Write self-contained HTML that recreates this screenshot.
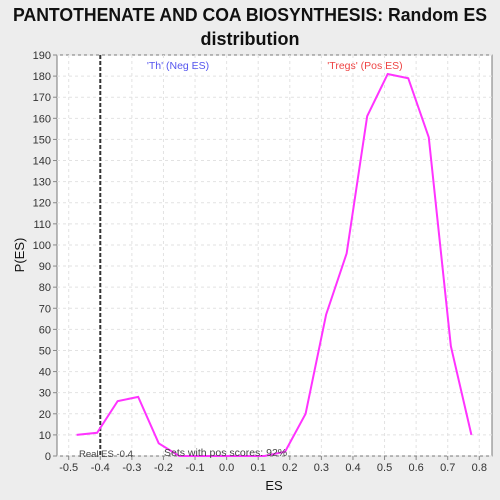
<!DOCTYPE html>
<html><head><meta charset="utf-8"><style>
html,body{margin:0;padding:0;background:#ededed;}
svg{display:block;font-family:"Liberation Sans","DejaVu Sans",sans-serif;}
</style></head><body>
<svg id="chart" width="500" height="500">
<text x="250" y="21" text-anchor="middle" font-size="18" font-weight="bold" fill="#111" textLength="474" lengthAdjust="spacingAndGlyphs">PANTOTHENATE AND COA BIOSYNTHESIS: Random ES</text>
<text x="250" y="45" text-anchor="middle" font-size="18" font-weight="bold" fill="#111">distribution</text>
<rect x="57" y="55" width="435" height="401" fill="#fff" stroke="#777"/>
<g id="grid"></g><g id="axes"></g><g id="series"></g>
<text x="178" y="69" text-anchor="middle" font-size="10.5" fill="#5555ee">'Th' (Neg ES)</text>
<text x="365" y="69" text-anchor="middle" font-size="10.5" fill="#ee4444">'Tregs' (Pos ES)</text>
<text x="274" y="490" text-anchor="middle" font-size="13" fill="#111">ES</text>
<text x="24" y="255" text-anchor="middle" font-size="13" fill="#111" transform="rotate(-90 24 255)">P(ES)</text>
</svg>
<script>
const esValues=[-0.475,-0.41,-0.345,-0.28,-0.215,-0.15,-0.08,-0.02,0.05,0.12,0.185,0.25,0.315,0.38,0.445,0.51,0.575,0.64,0.71,0.775];
const pValues=[10,11,26,28,6,0,0,0,0,0,2,20,67,96,161,181,179,151,52,10];
const xTicks=[-0.5,-0.4,-0.3,-0.2,-0.1,0.0,0.1,0.2,0.3,0.4,0.5,0.6,0.7,0.8];
const yTicks=[0,10,20,30,40,50,60,70,80,90,100,110,120,130,140,150,160,170,180,190];
const realES=-0.4;
const X=v=>68.7+(v+0.5)*(479.3-68.7)/1.3;
const Y=v=>456-v*401/190;
const NS="http://www.w3.org/2000/svg";
function mk(t,a,p){const e=document.createElementNS(NS,t);for(const k in a)e.setAttribute(k,a[k]);p.appendChild(e);return e;}
const grid=document.getElementById('grid'),axes=document.getElementById('axes'),series=document.getElementById('series');
xTicks.forEach(t=>{
 const g=mk('line',{x1:X(t),x2:X(t),y1:55,y2:456,stroke:'#e2e2e2','stroke-dasharray':'3,3'},grid);
 
 
 const tk=mk('line',{x1:X(t),x2:X(t),y1:456,y2:460,stroke:'#888'},axes);
 
 
 const l=mk('text',{x:X(t),y:471,'text-anchor':'middle','font-size':11,fill:'#333'},axes);
 l.textContent=t.toFixed(1);
 
 
});
yTicks.forEach(t=>{
 const g=mk('line',{x1:57,x2:492,y1:Y(t),y2:Y(t),stroke:'#e2e2e2','stroke-dasharray':'3,3'},grid);
 
 
 const tk=mk('line',{x1:53,x2:57,y1:Y(t),y2:Y(t),stroke:'#888'},axes);
 
 
 const l=mk('text',{x:51,y:Y(t)+4,'text-anchor':'end','font-size':11,fill:'#333'},axes);
 l.textContent=t;
 
 
});
const rl=mk('line',{x1:X(realES),x2:X(realES),y1:55,y2:456,stroke:'#333','stroke-width':2,'stroke-dasharray':'4,2'},series);


const pl=mk('polyline',{points:esValues.map((v,i)=>X(v)+','+Y(pValues[i])).join(' '),fill:'none',stroke:'#ff33ff','stroke-width':2},series);


const rt=mk('text',{x:79,y:457,'font-size':9.5,fill:'#444'},series);
rt.textContent='Real ES -0.4';


const st=mk('text',{x:164,y:456,'font-size':10.5,fill:'#444'},series);
st.textContent='Sets with pos scores: 92%';


</script>
</body></html>
